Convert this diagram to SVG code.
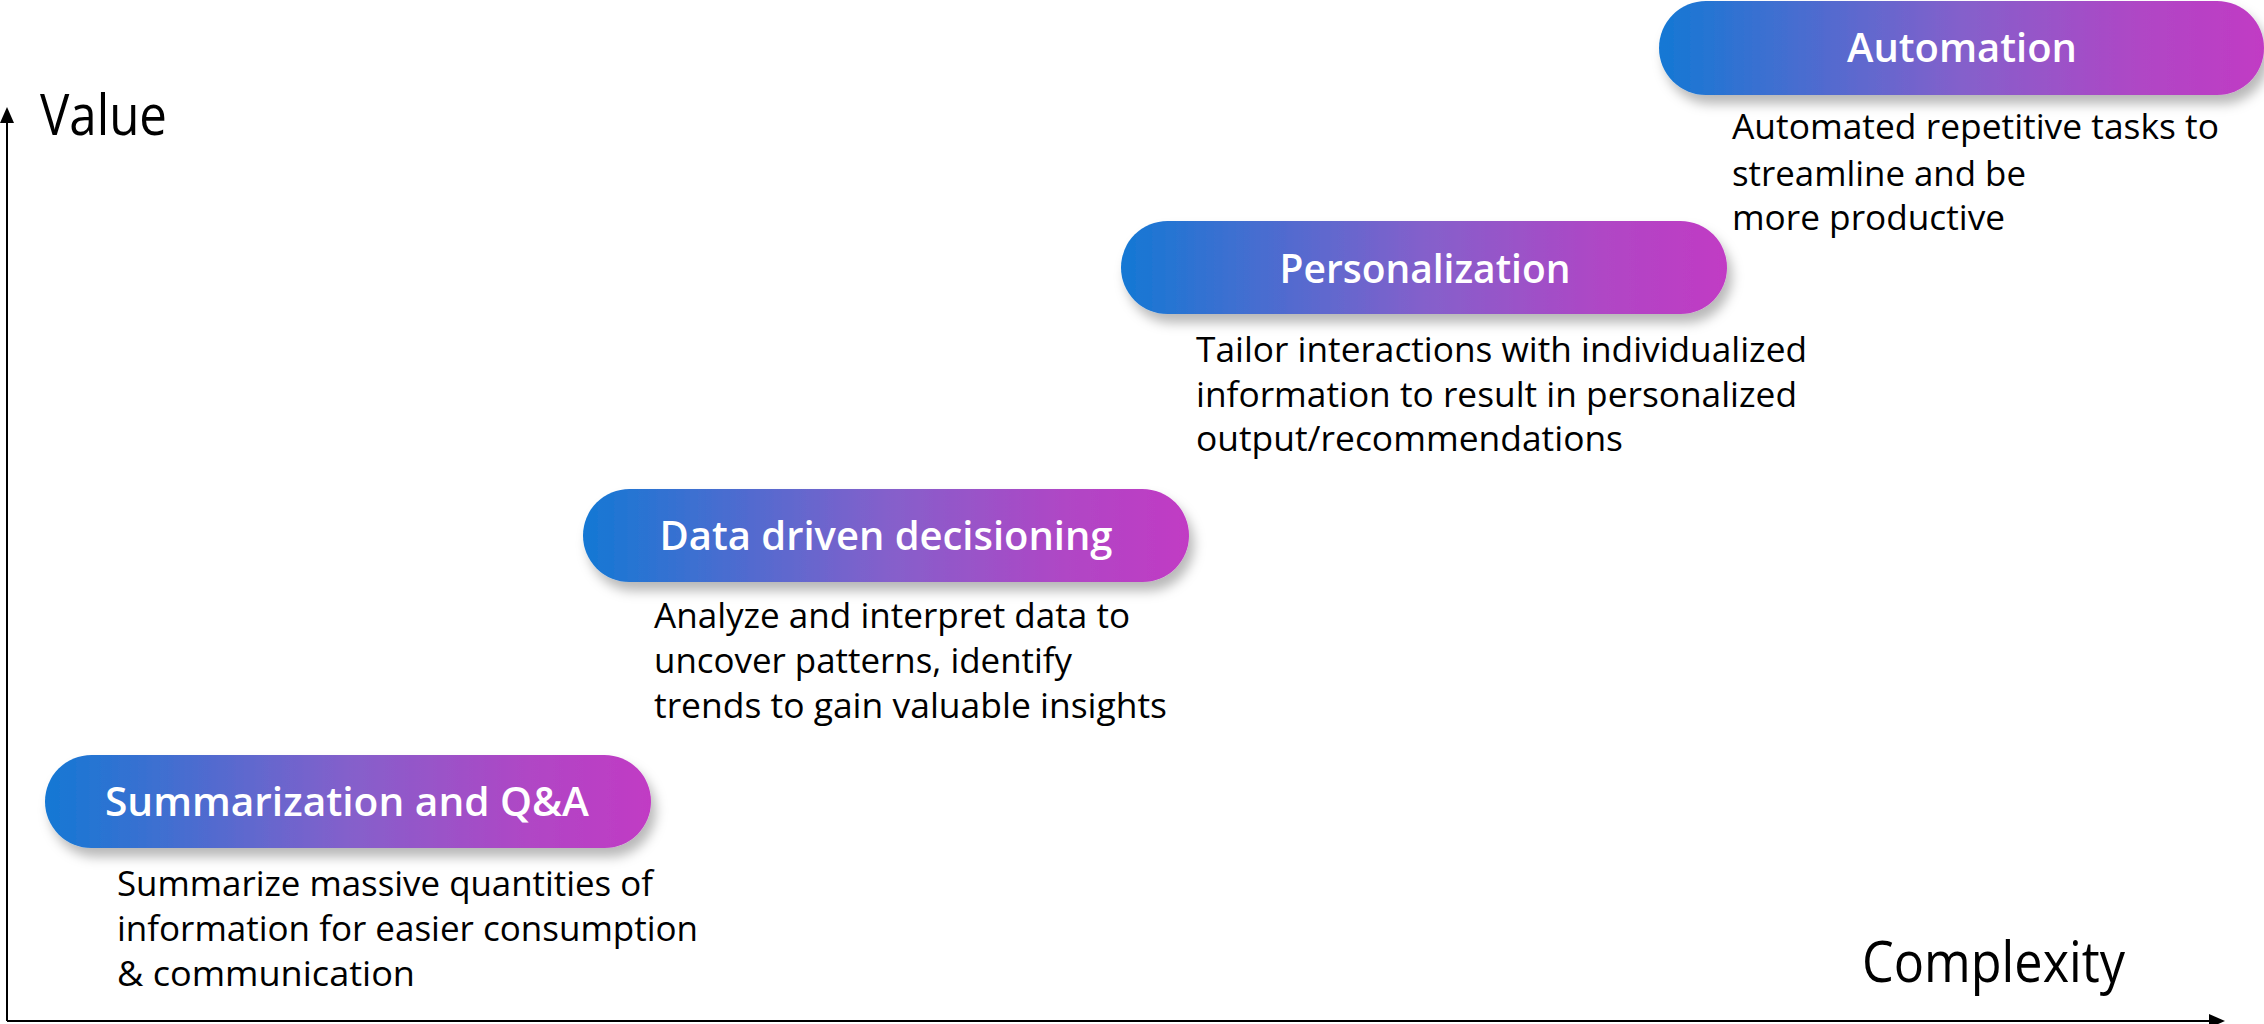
<svg xmlns="http://www.w3.org/2000/svg" width="2264" height="1024" viewBox="0 0 2264 1024">
  <style>
    .pill { fill: url(#pillGrad); filter: url(#shadow); }
    .title { font-family: "Open Sans", "Noto Sans", "Liberation Sans", sans-serif; font-weight: 600; font-size: 40px; fill: #ffffff; text-anchor: middle; }
    .desc { font-family: "Open Sans", "Noto Sans", "Liberation Sans", sans-serif; font-size: 35px; fill: #000000; }
    .axislabel { font-family: "Open Sans", "Noto Sans", "Liberation Sans", sans-serif; font-size: 56px; fill: #000000; }
    .axis { stroke: #000000; stroke-width: 2; fill: none; marker-end: url(#arrow); }
  </style>
  <defs>
    <linearGradient id="pillGrad" x1="0" y1="0" x2="1" y2="0">
      <stop offset="0" stop-color="#1478D4"/>
      <stop offset="0.5" stop-color="#8460CB"/>
      <stop offset="0.8" stop-color="#B046C5"/>
      <stop offset="1" stop-color="#C13BC4"/>
    </linearGradient>
    <filter id="shadow" x="-10%" y="-30%" width="125%" height="180%">
      <feDropShadow dx="5" dy="9" stdDeviation="6" flood-color="#000000" flood-opacity="0.28"/>
    </filter>
    <marker id="arrow" markerUnits="userSpaceOnUse" markerWidth="16" markerHeight="14" viewBox="0 0 16 14" refX="1" refY="7" orient="auto">
      <path d="M0,0 L16,7 L0,14 z" fill="#000000"/>
    </marker>
  </defs>

  <g id="connectors">
    <line class="axis" x1="7" y1="1021" x2="7" y2="122"/>
    <line class="axis" x1="7" y1="1021" x2="2210" y2="1021"/>
  </g>

  <g id="axis-labels">
    <text class="axislabel" x="40" y="135" textLength="127" lengthAdjust="spacingAndGlyphs">Value</text>
    <text class="axislabel" x="1862" y="982" textLength="263" lengthAdjust="spacingAndGlyphs">Complexity</text>
  </g>

  <g id="node-summarization">
    <rect class="pill" x="45" y="755" width="606" height="93" rx="46.5"/>
    <text class="title" x="347" y="816" textLength="484" lengthAdjust="spacingAndGlyphs">Summarization and Q&amp;A</text>
    <text class="desc" x="117" y="896" textLength="536" lengthAdjust="spacingAndGlyphs">Summarize massive quantities of</text>
    <text class="desc" x="117" y="941" textLength="581" lengthAdjust="spacingAndGlyphs">information for easier consumption</text>
    <text class="desc" x="117" y="986" textLength="298" lengthAdjust="spacingAndGlyphs">&amp; communication</text>
  </g>

  <g id="node-data-driven">
    <rect class="pill" x="583" y="489" width="606" height="93" rx="46.5"/>
    <text class="title" x="886" y="550" textLength="453" lengthAdjust="spacingAndGlyphs">Data driven decisioning</text>
    <text class="desc" x="654" y="628" textLength="476" lengthAdjust="spacingAndGlyphs">Analyze and interpret data to</text>
    <text class="desc" x="654" y="673" textLength="418" lengthAdjust="spacingAndGlyphs">uncover patterns, identify</text>
    <text class="desc" x="654" y="718" textLength="513" lengthAdjust="spacingAndGlyphs">trends to gain valuable insights</text>
  </g>

  <g id="node-personalization">
    <rect class="pill" x="1121" y="221" width="606" height="93" rx="46.5"/>
    <text class="title" x="1425" y="283" textLength="291" lengthAdjust="spacingAndGlyphs">Personalization</text>
    <text class="desc" x="1196" y="362" textLength="611" lengthAdjust="spacingAndGlyphs">Tailor interactions with individualized</text>
    <text class="desc" x="1196" y="407" textLength="601" lengthAdjust="spacingAndGlyphs">information to result in personalized</text>
    <text class="desc" x="1196" y="451" textLength="427" lengthAdjust="spacingAndGlyphs">output/recommendations</text>
  </g>

  <g id="node-automation">
    <rect class="pill" x="1659" y="1" width="605" height="94" rx="47"/>
    <text class="title" x="1962" y="62" textLength="230" lengthAdjust="spacingAndGlyphs">Automation</text>
    <text class="desc" x="1732" y="139" textLength="487" lengthAdjust="spacingAndGlyphs">Automated repetitive tasks to</text>
    <text class="desc" x="1732" y="186" textLength="294" lengthAdjust="spacingAndGlyphs">streamline and be</text>
    <text class="desc" x="1732" y="230" textLength="273" lengthAdjust="spacingAndGlyphs">more productive</text>
  </g>
</svg>
